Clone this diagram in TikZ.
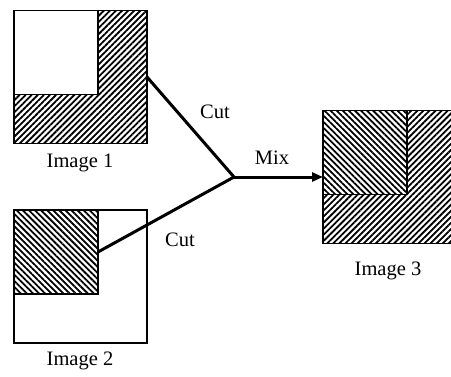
\documentclass[tikz,border=0pt]{standalone}
\usepackage{fontspec}
\setmainfont{Liberation Serif}
\usetikzlibrary{patterns.meta,arrows.meta}
\tikzset{
  box/.style={draw=black, line width=1.8pt, inner sep=0pt, outer sep=0pt, rectangle},
  big/.style={box, minimum size=133pt},
  small/.style={box, minimum size=84pt, anchor=north west},
  hatchNE/.style={pattern={Lines[angle=45,distance=4.3pt,line width=1.8pt]}},
  hatchNW/.style={preaction={fill=white}, pattern={Lines[angle=-45,distance=4.3pt,line width=1.8pt]}},
  lbl/.style={font=\fontsize{20.5pt}{24pt}\selectfont, inner sep=0pt},
  conn/.style={line width=3pt},
}
\begin{document}
\begin{tikzpicture}[x=1pt,y=-1pt]
\useasboundingbox (0,0) rectangle (451,376);
\begin{scope}
\clip (0,0) rectangle (451,376);
% Image 1
\node[big, hatchNE] (img1) at (80.5,77) {};
\node[small, fill=white] (in1) at (img1.north west) {};
\node[lbl] (l1) at (80,163) {Image 1};
% Image 2
\node[big, fill=white] (img2) at (80.5,276.5) {};
\node[small, hatchNW] (in2) at (img2.north west) {};
\node[lbl] (l2) at (80,361) {Image 2};
% Image 3
\node[big, hatchNE] (img3) at (389.5,177) {};
\node[small, hatchNW] (in3) at (img3.north west) {};
\node[lbl] (l3) at (388,271) {Image 3};
\end{scope}
% connectors
\coordinate (j) at (234,177);
\draw[conn, line cap=round] (img1.east) -- (j);
\draw[conn, line cap=round] (in2.east) -- (j);
\draw[conn, -{Triangle[length=11pt,width=9pt]}] (j) -- (img3.west);
\node[lbl] (cut1) at (215,112) {Cut};
\node[lbl] (mix) at (272,158) {Mix};
\node[lbl] (cut2) at (180,240) {Cut};
\end{tikzpicture}
\end{document}
